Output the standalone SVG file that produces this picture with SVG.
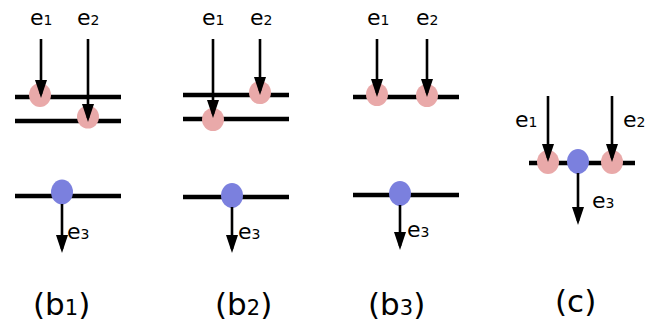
<svg xmlns="http://www.w3.org/2000/svg" width="647" height="324" viewBox="0 0 647 324">
  <style>
    .bar { stroke: #000; stroke-width: 4.5; fill: none; }
    .arr { stroke: #000; stroke-width: 2.6; fill: none; marker-end: url(#head); }
    .pink { fill: #E9A9A9; }
    .blue { fill: #7B80DE; }
    text { font-family: "DejaVu Sans", sans-serif; fill: #000; }
    .lbl { font-size: 22px; }
    .sub { font-size: 14px; }
    .cap { font-size: 31px; }
    .capsub { font-size: 21px; }
  </style>
  <defs>
    <marker id="head" markerUnits="userSpaceOnUse" markerWidth="18" markerHeight="12" refX="14" refY="6" orient="auto">
      <path d="M0,0 L18,6 L0,12 z" fill="#000"/>
    </marker>
  </defs>

  <!-- horizontal bars -->
  <g id="bars">
    <line class="bar" x1="15" y1="97" x2="121" y2="97"/>
    <line class="bar" x1="15" y1="121" x2="121" y2="121"/>
    <line class="bar" x1="15" y1="196" x2="121" y2="196"/>
    <line class="bar" x1="183" y1="95" x2="289" y2="95"/>
    <line class="bar" x1="183" y1="119" x2="289" y2="119"/>
    <line class="bar" x1="183" y1="197" x2="289" y2="197"/>
    <line class="bar" x1="353" y1="97" x2="459" y2="97"/>
    <line class="bar" x1="353" y1="195" x2="459" y2="195"/>
    <line class="bar" x1="529" y1="163" x2="635" y2="163"/>
  </g>

  <!-- particle nodes -->
  <g id="b1-e1"><ellipse class="pink" cx="40" cy="95" rx="11" ry="12"/></g>
  <g id="b1-e2"><ellipse class="pink" cx="88" cy="117" rx="11" ry="11.5"/></g>
  <g id="b1-e3"><ellipse class="blue" cx="62" cy="192" rx="11" ry="12.5"/></g>
  <g id="b2-e1"><ellipse class="pink" cx="213" cy="119.5" rx="11" ry="11.5"/></g>
  <g id="b2-e2"><ellipse class="pink" cx="260" cy="92.5" rx="11" ry="11.5"/></g>
  <g id="b2-e3"><ellipse class="blue" cx="232" cy="195.5" rx="11" ry="12.5"/></g>
  <g id="b3-e1"><ellipse class="pink" cx="377" cy="94.5" rx="11" ry="11.5"/></g>
  <g id="b3-e2"><ellipse class="pink" cx="427" cy="95.5" rx="11" ry="11.5"/></g>
  <g id="b3-e3"><ellipse class="blue" cx="400" cy="193.5" rx="11" ry="12.5"/></g>
  <g id="c-e1"><ellipse class="pink" cx="548" cy="162" rx="11" ry="12"/></g>
  <g id="c-e3"><ellipse class="blue" cx="578" cy="161.5" rx="11" ry="12.5"/></g>
  <g id="c-e2"><ellipse class="pink" cx="612" cy="162" rx="11" ry="12"/></g>

  <!-- arrows -->
  <g id="connectors">
    <line class="arr" x1="41" y1="39" x2="41" y2="94"/>
    <line class="arr" x1="88" y1="39" x2="88" y2="118"/>
    <line class="arr" x1="62" y1="204" x2="62" y2="249"/>
    <line class="arr" x1="213" y1="39" x2="213" y2="114"/>
    <line class="arr" x1="260" y1="39" x2="260" y2="91"/>
    <line class="arr" x1="232" y1="207" x2="232" y2="249"/>
    <line class="arr" x1="377" y1="39" x2="377" y2="93"/>
    <line class="arr" x1="427" y1="39" x2="427" y2="93"/>
    <line class="arr" x1="400" y1="205" x2="400" y2="246"/>
    <line class="arr" x1="548" y1="96" x2="548" y2="158"/>
    <line class="arr" x1="612" y1="96" x2="612" y2="158"/>
    <line class="arr" x1="578" y1="173" x2="578" y2="221"/>
  </g>

  <!-- particle labels -->
  <g id="labels">
    <text class="lbl" x="30" y="25">e<tspan class="sub">1</tspan></text>
    <text class="lbl" x="77" y="25">e<tspan class="sub">2</tspan></text>
    <text class="lbl" x="67" y="239">e<tspan class="sub">3</tspan></text>
    <text class="lbl" x="202" y="25">e<tspan class="sub">1</tspan></text>
    <text class="lbl" x="250" y="25">e<tspan class="sub">2</tspan></text>
    <text class="lbl" x="238" y="239">e<tspan class="sub">3</tspan></text>
    <text class="lbl" x="367" y="25">e<tspan class="sub">1</tspan></text>
    <text class="lbl" x="416" y="25">e<tspan class="sub">2</tspan></text>
    <text class="lbl" x="407" y="237">e<tspan class="sub">3</tspan></text>
    <text class="lbl" x="515" y="127">e<tspan class="sub">1</tspan></text>
    <text class="lbl" x="623" y="127">e<tspan class="sub">2</tspan></text>
    <text class="lbl" x="592" y="208">e<tspan class="sub">3</tspan></text>
  </g>

  <!-- panel captions -->
  <g id="captions">
    <text class="cap" x="33" y="315">(b<tspan class="capsub">1</tspan>)</text>
    <text class="cap" x="215" y="315">(b<tspan class="capsub">2</tspan>)</text>
    <text class="cap" x="368" y="315">(b<tspan class="capsub">3</tspan>)</text>
    <text class="cap" x="555" y="312">(c)</text>
  </g>
</svg>
